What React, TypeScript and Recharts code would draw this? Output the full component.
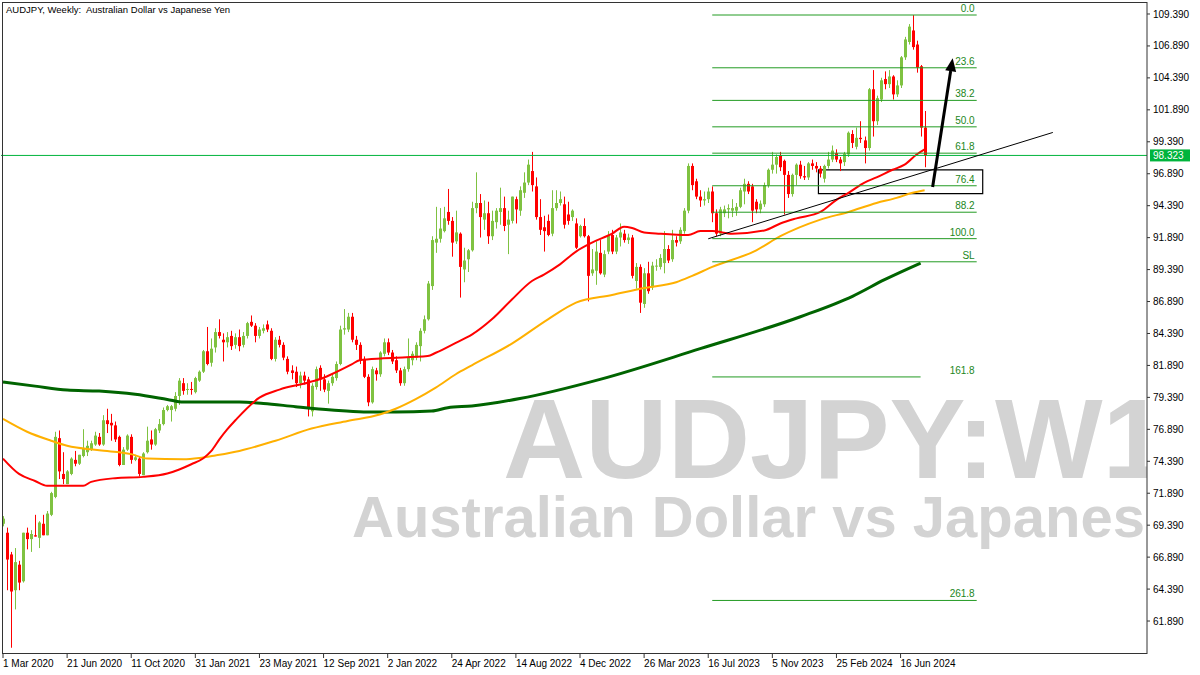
import {
  Bar,
  ComposedChart,
  Line,
  ReferenceArea,
  ReferenceLine,
  XAxis,
  YAxis,
} from 'recharts'

const FONT = '"Liberation Sans", Arial, sans-serif'
const BULL = '#7fc241'
const BEAR = '#ff0000'
const FIB_GREEN = '#239b23'
const PRICE_GREEN = '#00b43c'

const TITLE = 'AUDJPY, Weekly:  Australian Dollar vs Japanese Yen'
const WATERMARK_SYMBOL = 'AUDJPY:W1'
const WATERMARK_NAME = 'Australian Dollar vs Japanese Yen'

// weekly bars, week 0 = 1 Mar 2020, last = 28 Jul 2024
const OPEN = [
  69.5, 68.8, 67.1, 64.3, 66.3, 65.0, 68.8, 68.3, 68.6, 68.4,
  69.5, 68.6, 70.2, 71.6, 76.2, 73.4, 72.6, 73.4, 74.5, 74.2,
  74.8, 75.1, 75.3, 75.7, 76.3, 75.7, 77.6, 77.4, 77.2, 76.3,
  74.1, 75.3, 76.3, 74.5, 74.6, 73.3, 75.1, 76.1, 75.7, 76.8,
  77.3, 78.4, 78.4, 78.5, 79.5, 80.5, 80.0, 80.05, 79.8, 80.7,
  81.4, 83.0, 82.1, 83.3, 84.5, 83.9, 83.7, 84.2, 83.5, 84.1,
  83.5, 84.2, 85.3, 85.0, 84.2, 84.6, 85.1, 84.6, 82.4, 83.9,
  83.5, 82.4, 81.5, 81.4, 80.5, 81.1, 80.8, 78.3, 80.2, 81.7,
  80.8, 79.9, 80.5, 80.9, 82.0, 84.7, 84.7, 85.7, 83.9, 83.5,
  82.4, 81.0, 79.0, 81.5, 81.2, 82.8, 83.7, 82.9, 82.3, 81.5,
  80.5, 81.6, 82.3, 82.5, 83.4, 84.6, 85.5, 88.1, 91.5, 91.8,
  92.4, 93.9, 93.2, 91.6, 92.2, 89.4, 90.2, 90.9, 94.2, 94.6,
  93.3, 93.8, 92.0, 93.1, 93.9, 94.2, 92.9, 93.2, 94.9, 94.0,
  95.4, 96.2, 97.1, 95.9, 93.5, 92.7, 93.2, 92.2, 94.2, 94.6,
  94.5, 93.7, 93.5, 93.0, 92.0, 92.8, 92.0, 89.1, 89.3, 90.7,
  89.0, 90.8, 92.1, 90.8, 91.9, 92.2, 91.7, 91.9, 88.5, 89.6,
  86.7, 89.1, 88.0, 89.7, 89.6, 89.9, 91.0, 90.2, 91.7, 91.6,
  92.4, 94.0, 97.5, 96.3, 95.1, 94.8, 94.9, 95.5, 93.8, 92.2,
  93.8, 94.1, 94.0, 94.0, 94.3, 95.5, 96.1, 95.9, 94.7, 94.1,
  94.5, 96.0, 97.2, 97.6, 98.3, 97.9, 96.8, 95.3, 96.8, 97.6,
  96.7, 96.6, 97.7, 97.5, 97.3, 96.5, 97.5, 98.0, 98.5, 98.0,
  97.8, 98.4, 100.0, 99.0, 99.7, 99.5, 98.9, 103.5, 101.0, 102.7,
  104.3, 103.9, 104.5, 103.1, 103.8, 106.0, 107.2, 108.1, 107.0, 105.3,
  100.5,
]
const HIGH = [
  70.1, 69.2, 67.3, 67.6, 66.6, 68.8, 69.2, 69.0, 70.2, 69.7,
  70.2, 70.5, 72.0, 76.7, 76.8, 75.1, 73.7, 74.7, 75.2, 74.9,
  76.9, 76.0, 76.0, 76.7, 76.6, 78.0, 78.5, 78.1, 77.5, 76.4,
  75.5, 76.5, 76.5, 74.9, 74.8, 75.1, 77.1, 76.8, 77.0, 77.7,
  78.6, 78.8, 78.8, 79.8, 80.9, 80.9, 80.5, 80.6, 81.0, 81.5,
  83.1, 84.9, 84.0, 84.8, 85.5, 84.4, 84.5, 84.6, 84.4, 84.7,
  84.5, 85.3, 85.8, 85.2, 84.9, 85.1, 85.4, 84.8, 84.1, 84.2,
  83.7, 82.6, 81.9, 81.8, 81.4, 81.4, 81.0, 80.5, 81.8, 81.9,
  81.2, 80.7, 81.3, 82.2, 85.0, 86.3, 86.0, 86.0, 84.2, 83.7,
  82.6, 81.2, 81.8, 81.7, 83.0, 84.0, 84.0, 83.1, 82.6, 81.7,
  81.8, 84.0, 83.0, 83.7, 84.8, 85.8, 88.5, 92.0, 94.3, 94.2,
  94.3, 95.7, 93.5, 94.0, 92.3, 91.1, 91.0, 94.7, 97.0, 95.3,
  94.8, 94.7, 94.0, 94.2, 95.8, 95.1, 94.0, 95.1, 95.1, 95.9,
  97.0, 98.0, 98.6, 96.6, 94.9, 93.6, 93.7, 95.6, 95.6, 95.5,
  95.1, 94.7, 94.1, 93.4, 92.9, 93.4, 92.1, 91.0, 91.6, 91.7,
  90.9, 92.4, 92.5, 92.1, 93.0, 92.5, 92.2, 92.1, 89.9, 89.8,
  89.5, 90.0, 90.0, 90.2, 90.6, 92.4, 91.3, 92.5, 92.0, 92.7,
  94.2, 97.7, 97.7, 96.5, 95.6, 95.5, 95.8, 95.9, 94.1, 94.3,
  94.4, 94.5, 94.9, 94.6, 95.8, 96.5, 96.3, 96.1, 94.9, 94.8,
  96.2, 97.3, 98.6, 98.4, 98.6, 98.0, 97.1, 96.9, 97.7, 97.9,
  97.5, 97.8, 98.0, 97.8, 97.5, 97.6, 98.6, 99.1, 98.8, 98.2,
  98.6, 100.2, 100.3, 100.5, 101.0, 99.8, 103.6, 105.0, 103.0, 104.4,
  104.9, 105.0, 104.6, 104.2, 106.1, 107.6, 108.6, 109.3, 107.3, 105.4,
  101.8,
]
const LOW = [
  69.3, 64.3, 59.8, 62.8, 64.3, 64.9, 67.5, 67.3, 68.5, 67.6,
  68.6, 68.6, 70.1, 71.5, 73.0, 72.6, 72.6, 73.3, 74.0, 74.1,
  74.7, 74.8, 75.2, 75.6, 75.6, 75.6, 76.6, 76.0, 75.9, 74.0,
  74.1, 75.2, 74.2, 74.4, 73.2, 73.3, 75.0, 75.3, 75.6, 76.6,
  77.2, 78.3, 77.5, 78.3, 78.8, 79.6, 79.6, 79.6, 79.7, 80.6,
  81.3, 81.9, 81.8, 82.9, 84.0, 82.2, 83.3, 83.1, 83.2, 83.0,
  83.3, 84.0, 84.9, 83.7, 84.0, 84.4, 84.5, 82.3, 82.2, 83.3,
  82.3, 81.2, 80.8, 80.2, 80.1, 80.4, 77.9, 77.9, 80.0, 79.9,
  79.8, 78.9, 80.3, 80.7, 81.9, 84.3, 84.5, 83.7, 83.1, 82.0,
  80.9, 78.7, 78.9, 80.7, 81.0, 82.6, 82.7, 82.0, 81.3, 80.3,
  80.3, 81.4, 81.9, 82.3, 82.2, 84.4, 85.4, 87.8, 90.7, 91.5,
  92.3, 92.9, 90.4, 91.4, 87.2, 88.4, 89.2, 90.8, 93.8, 91.9,
  92.5, 91.4, 91.7, 92.6, 92.9, 92.4, 90.6, 93.0, 93.0, 93.6,
  95.0, 96.0, 95.5, 93.3, 92.1, 90.8, 92.0, 92.0, 94.0, 94.4,
  92.6, 92.9, 93.2, 91.0, 91.9, 91.9, 86.9, 88.9, 88.2, 89.0,
  88.8, 90.6, 90.6, 90.6, 91.2, 91.5, 91.4, 88.7, 87.9, 86.0,
  86.4, 87.5, 87.8, 89.3, 89.4, 89.1, 89.9, 90.0, 91.2, 91.4,
  92.2, 93.8, 95.6, 94.9, 94.3, 94.4, 94.6, 93.1, 92.0, 92.0,
  93.5, 93.4, 93.5, 93.6, 94.2, 94.5, 95.3, 93.1, 93.8, 93.8,
  94.3, 95.8, 96.9, 96.9, 97.1, 93.7, 95.0, 95.1, 96.0, 96.5,
  96.4, 96.4, 97.2, 97.0, 96.6, 96.2, 97.3, 97.8, 97.8, 97.1,
  97.5, 98.2, 98.9, 98.8, 99.3, 97.7, 98.7, 99.8, 100.7, 102.5,
  103.5, 103.6, 102.7, 102.9, 103.6, 105.8, 107.0, 106.6, 104.8, 99.8,
  97.4,
]
const CLOSE = [
  69.9, 66.7, 64.2, 66.5, 64.9, 68.8, 68.3, 68.7, 68.5, 69.6,
  68.6, 70.3, 71.9, 76.3, 73.6, 73.0, 73.6, 74.6, 74.2, 74.9,
  75.4, 75.6, 75.8, 76.4, 75.7, 77.6, 77.3, 77.2, 76.1, 74.1,
  75.3, 76.4, 74.5, 74.7, 73.4, 75.0, 76.0, 75.7, 76.9, 77.3,
  78.4, 78.7, 78.7, 79.5, 80.7, 79.9, 80.05, 80.0, 80.9, 81.4,
  83.0, 82.0, 83.2, 84.5, 84.2, 83.7, 84.1, 83.4, 84.1, 83.4,
  84.2, 85.2, 85.0, 84.2, 84.7, 84.8, 84.7, 82.4, 83.9, 83.5,
  82.5, 81.4, 81.3, 80.5, 81.1, 80.7, 78.6, 80.3, 81.6, 80.8,
  80.0, 80.5, 81.0, 82.0, 84.7, 84.8, 85.7, 83.9, 83.5, 82.3,
  81.0, 79.0, 81.6, 81.2, 82.9, 83.7, 82.9, 82.2, 81.5, 80.5,
  81.6, 82.5, 82.8, 83.5, 84.6, 85.5, 88.3, 91.7, 91.8, 92.6,
  93.4, 93.2, 91.5, 92.3, 89.6, 90.1, 90.9, 94.2, 94.6, 93.5,
  93.8, 92.0, 93.2, 94.0, 94.2, 92.8, 93.3, 95.1, 94.1, 95.6,
  96.2, 97.6, 96.0, 93.5, 92.5, 92.4, 92.1, 94.2, 94.6, 94.9,
  92.9, 93.2, 94.0, 91.1, 92.8, 92.0, 88.9, 89.4, 90.8, 89.1,
  90.6, 92.1, 90.8, 91.9, 92.3, 91.7, 91.9, 88.9, 89.6, 86.8,
  89.1, 87.7, 89.7, 89.7, 90.3, 91.0, 90.1, 91.7, 91.5, 92.5,
  94.0, 97.5, 96.0, 95.1, 94.8, 94.9, 95.5, 93.8, 92.2, 94.1,
  94.1, 94.2, 94.2, 94.3, 95.6, 96.1, 95.5, 94.0, 94.1, 94.55,
  96.0, 97.2, 97.6, 98.2, 97.4, 96.8, 95.3, 96.8, 97.6, 96.7,
  96.6, 97.7, 97.5, 97.3, 96.9, 97.5, 98.0, 98.7, 98.0, 97.7,
  98.45, 100.1, 99.3, 99.7, 99.6, 98.9, 103.5, 101.0, 102.8, 104.2,
  103.9, 104.5, 103.1, 103.8, 106.0, 107.4, 108.4, 106.8, 105.2, 100.5,
  98.32,
]

// moving averages, read as [week, value]
const RED_MA = [
  [0, 74.6], [4, 73.4], [8, 72.85], [11, 72.47], [20, 72.47], [22, 72.78],
  [28, 73.07], [35, 73.17], [41, 73.43], [44, 73.75], [47, 74.16], [50, 74.63],
  [52, 75.2], [54, 76.1], [56, 76.9], [58, 77.6], [64, 79.37], [69, 80.0],
  [76, 80.54], [80, 80.93], [82, 81.2], [87, 81.97], [89, 82.3], [95, 82.45],
  [106, 82.62], [108, 82.88], [113, 83.66], [117, 84.3], [122, 85.5], [127, 87.05],
  [132, 88.5], [135, 89.0], [139, 89.8], [143, 90.8], [147, 91.5], [152, 92.2],
  [155, 92.75], [157, 92.65], [160, 92.3], [164, 92.2], [171, 92.1], [174, 92.4],
  [177, 92.4], [182, 92.2], [190, 92.45], [194, 93.0], [198, 93.4], [204, 93.9],
  [208, 94.85], [211, 95.4], [215, 96.2], [218, 96.6], [222, 97.2], [225, 97.6],
  [228, 98.4], [230, 98.8],
]
const ORANGE_MA = [
  [0, 77.7], [6, 76.7], [12, 76.0], [16, 75.6], [24, 75.25], [32, 74.95],
  [36, 74.6], [45, 74.55], [49, 74.65], [53, 74.85], [59, 75.2], [68, 76.0],
  [77, 76.95], [86, 77.55], [94, 78.05], [98, 78.5], [103, 79.25], [108, 80.15],
  [113, 81.2], [117, 81.9], [127, 83.6], [136, 85.5], [143, 86.8], [152, 87.4],
  [160, 87.95], [168, 88.4], [172, 88.9], [177, 89.6], [188, 90.9], [194, 92.0],
  [204, 93.3], [211, 93.9], [218, 94.6], [223, 95.0], [227, 95.4], [230, 95.6],
]
const GREEN_MA = [
  [0, 80.6], [8, 80.27], [16, 79.96], [24, 79.88], [33, 79.63], [41, 79.23],
  [45, 79.02], [59, 79.02], [65, 78.92], [73, 78.66], [82, 78.4], [90, 78.25],
  [98, 78.25], [107, 78.32], [111, 78.58], [117, 78.72], [129, 79.3], [149, 80.8],
  [174, 83.2], [199, 85.7], [212, 87.3], [220, 88.6], [229, 89.9],
]

const TOTAL_SLOTS = 286 // empty weeks after the last bar (chart shift)

const DATE_TICKS = [0, 16, 32, 48, 64, 80, 96, 112, 128, 144, 160, 176, 192, 208, 224]
const DATE_LABELS = [
  '1 Mar 2020', '21 Jun 2020', '11 Oct 2020', '31 Jan 2021', '23 May 2021',
  '12 Sep 2021', '2 Jan 2022', '24 Apr 2022', '14 Aug 2022', '4 Dec 2022',
  '26 Mar 2023', '16 Jul 2023', '5 Nov 2023', '25 Feb 2024', '16 Jun 2024',
]
const PRICE_TICKS = [
  61.89, 64.39, 66.89, 69.39, 71.89, 74.39, 76.89, 79.39, 81.89, 84.39,
  86.89, 89.39, 91.89, 94.39, 96.89, 99.39, 101.89, 104.39, 106.89, 109.39,
]
const LAST_PRICE = 98.323

// fibonacci drawing
const FIB_NAMES = ['0.0', '23.6', '38.2', '50.0', '61.8', '76.4', '88.2', '100.0', 'SL', '161.8', '261.8']
const FIB_PRICES = [109.31, 105.18, 102.63, 100.56, 98.5, 95.95, 93.88, 91.81, 90.0, 80.99, 63.5]
const FIB_START = 177
const FIB_END = [243, 243, 243, 243, 243, 243, 243, 243, 243, 229, 243]
const FIB_LABEL_END = 243

const TREND_WEEKS = [176, 262]
const TREND_PRICES = [91.8, 100.12]
const ZONE_WEEKS = [204, 244]
const ZONE_PRICES = [95.33, 97.2]
const ARROW_WEEKS = [232, 237]
const ARROW_PRICES = [95.85, 105.93]

const redMap = new Map(RED_MA.map(([w, v]) => [w, v]))
const orangeMap = new Map(ORANGE_MA.map(([w, v]) => [w, v]))
const greenMap = new Map(GREEN_MA.map(([w, v]) => [w, v]))

const rows = Array.from({ length: TOTAL_SLOTS }, (_, i) => {
  const has = i < CLOSE.length
  return {
    i,
    range: has ? [LOW[i], HIGH[i]] : null,
    o: has ? OPEN[i] : null,
    h: has ? HIGH[i] : null,
    l: has ? LOW[i] : null,
    c: has ? CLOSE[i] : null,
    red: redMap.get(i) ?? null,
    orange: orangeMap.get(i) ?? null,
    green: greenMap.get(i) ?? null,
  }
})

function Candle(props: any) {
  const { x, y, width, height, payload } = props
  if (!payload || payload.c == null || !Number.isFinite(y)) return <g />
  const top = height >= 0 ? y : y + height
  const h = Math.abs(height)
  const span = payload.h - payload.l || 1
  const py = (v: number) => top + ((payload.h - v) / span) * h
  const cx = Math.round(x + width / 2)
  const color = payload.c >= payload.o ? BULL : BEAR
  const bTop = py(Math.max(payload.o, payload.c))
  const bBot = py(Math.min(payload.o, payload.c))
  return (
    <g>
      <rect x={cx} y={top} width={1} height={Math.max(h, 1)} fill={color} />
      <rect x={cx - 1} y={bTop} width={3} height={Math.max(bBot - bTop, 1)} fill={color} />
    </g>
  )
}

function DateTick(props: any) {
  const { x, y, payload } = props
  const k = DATE_TICKS.indexOf(payload.value)
  return (
    <text x={x} y={y} dy='0.71em' fontSize={10} fontFamily={FONT} fill='#000'>
      {DATE_LABELS[k]}
    </text>
  )
}

function FibLabel(props: any) {
  const { viewBox, text } = props
  if (!viewBox) return null
  return (
    <text
      x={viewBox.x + viewBox.width - 2}
      y={viewBox.y - 3}
      textAnchor='end'
      fontSize={10}
      fontFamily={FONT}
      fill='#1b861b'
    >
      {text}
    </text>
  )
}

function PriceTag(props: any) {
  const { viewBox } = props
  if (!viewBox) return null
  const x = viewBox.x + viewBox.width
  const y = viewBox.y
  return (
    <g>
      <rect x={x + 3} y={y - 6} width={40} height={12} fill={PRICE_GREEN} />
      <text x={x + 6} y={y + 4} fontSize={10} fontFamily={FONT} fill='#fff'>
        {LAST_PRICE.toFixed(3)}
      </text>
    </g>
  )
}

function ArrowShape(props: any) {
  const { x1, y1, x2, y2 } = props
  const dx = x2 - x1
  const dy = y2 - y1
  const len = Math.hypot(dx, dy) || 1
  const ux = dx / len
  const uy = dy / len
  const bx = x2 - ux * 13
  const by = y2 - uy * 13
  const nx = -uy * 5.5
  const ny = ux * 5.5
  return (
    <g>
      <line x1={x1} y1={y1} x2={bx} y2={by} stroke='#000' strokeWidth={3} />
      <polygon points={`${x2},${y2} ${bx + nx},${by + ny} ${bx - nx},${by - ny}`} fill='#000' />
    </g>
  )
}

export default function App() {
  return (
    <div
      style={{
        position: 'fixed',
        left: 0,
        top: 0,
        width: 1200,
        height: 675,
        background: '#fff',
        overflow: 'hidden',
      }}
    >
      <svg width={1147} height={654} style={{ position: 'absolute', left: 0, top: 0 }}>
        <text x={503} y={478} fontSize={114} fontWeight='bold' fontFamily={FONT} fill='#d3d3d3'>
          {WATERMARK_SYMBOL}
        </text>
        <text x={352} y={537} fontSize={58} fontWeight='bold' fontFamily={FONT} fill='#d3d3d3'>
          {WATERMARK_NAME}
        </text>
      </svg>
      <div style={{ position: 'absolute', left: 0, top: 0 }}>
        <ComposedChart
          width={1200}
          height={675}
          data={rows}
          margin={{ top: 3, right: 0, bottom: 0, left: 1 }}
          barCategoryGap={0}
          barGap={0}
        >
          <XAxis
            dataKey='i'
            type='category'
            ticks={DATE_TICKS}
            interval={0}
            tick={<DateTick />}
            tickSize={4}
            tickMargin={2}
            axisLine={false}
            tickLine={{ stroke: '#333' }}
            height={21}
          />
          <YAxis
            orientation='right'
            type='number'
            domain={[59.31, 110.25]}
            allowDataOverflow
            ticks={PRICE_TICKS}
            interval={0}
            width={53}
            axisLine={false}
            tickLine={{ stroke: '#333' }}
            tickSize={3}
            tickMargin={3}
            tick={{ fontSize: 10, fill: '#000', fontFamily: FONT }}
            tickFormatter={(v: number) => v.toFixed(3)}
          />
          <Bar dataKey='range' shape={(p: any) => <Candle {...p} />} isAnimationActive={false} />
          <Line
            dataKey='green'
            type='monotone'
            stroke='#006400'
            strokeWidth={3}
            dot={false}
            connectNulls
            isAnimationActive={false}
          />
          <Line
            dataKey='orange'
            type='monotone'
            stroke='#ffb000'
            strokeWidth={2}
            dot={false}
            connectNulls
            isAnimationActive={false}
          />
          <Line
            dataKey='red'
            type='monotone'
            stroke='#ff0000'
            strokeWidth={2}
            dot={false}
            connectNulls
            isAnimationActive={false}
          />
          {FIB_NAMES.map((name, k) => (
            <ReferenceLine
              key={name}
              segment={[
                { x: FIB_START, y: FIB_PRICES[k] },
                { x: FIB_END[k], y: FIB_PRICES[k] },
              ]}
              stroke={FIB_GREEN}
              strokeWidth={1}
            />
          ))}
          {FIB_NAMES.map((name, k) => (
            <ReferenceLine
              key={'lbl' + name}
              segment={[
                { x: FIB_START, y: FIB_PRICES[k] },
                { x: FIB_LABEL_END, y: FIB_PRICES[k] },
              ]}
              stroke='none'
              label={<FibLabel text={name} />}
            />
          ))}
          <ReferenceLine y={LAST_PRICE} stroke={PRICE_GREEN} strokeWidth={1} label={<PriceTag />} />
          <ReferenceLine
            segment={[
              { x: TREND_WEEKS[0], y: TREND_PRICES[0] },
              { x: TREND_WEEKS[1], y: TREND_PRICES[1] },
            ]}
            stroke='#000'
            strokeWidth={1}
          />
          <ReferenceArea
            x1={ZONE_WEEKS[0]}
            x2={ZONE_WEEKS[1]}
            y1={ZONE_PRICES[0]}
            y2={ZONE_PRICES[1]}
            fill='#000'
            fillOpacity={0}
            stroke='#000'
            strokeWidth={1.2}
            ifOverflow='visible'
          />
          <ReferenceLine
            segment={[
              { x: ARROW_WEEKS[0], y: ARROW_PRICES[0] },
              { x: ARROW_WEEKS[1], y: ARROW_PRICES[1] },
            ]}
            shape={(p: any) => <ArrowShape {...p} />}
          />
        </ComposedChart>
      </div>
      <svg
        width={1200}
        height={675}
        style={{ position: 'absolute', left: 0, top: 0, pointerEvents: 'none' }}
      >
        <rect x={2.5} y={2.5} width={1144.5} height={651} fill='none' stroke='#333' />
        <text x={6} y={13} fontSize={9.5} fontFamily={FONT} fill='#000' style={{ whiteSpace: 'pre' }}>
          {TITLE}
        </text>
      </svg>
    </div>
  )
}
